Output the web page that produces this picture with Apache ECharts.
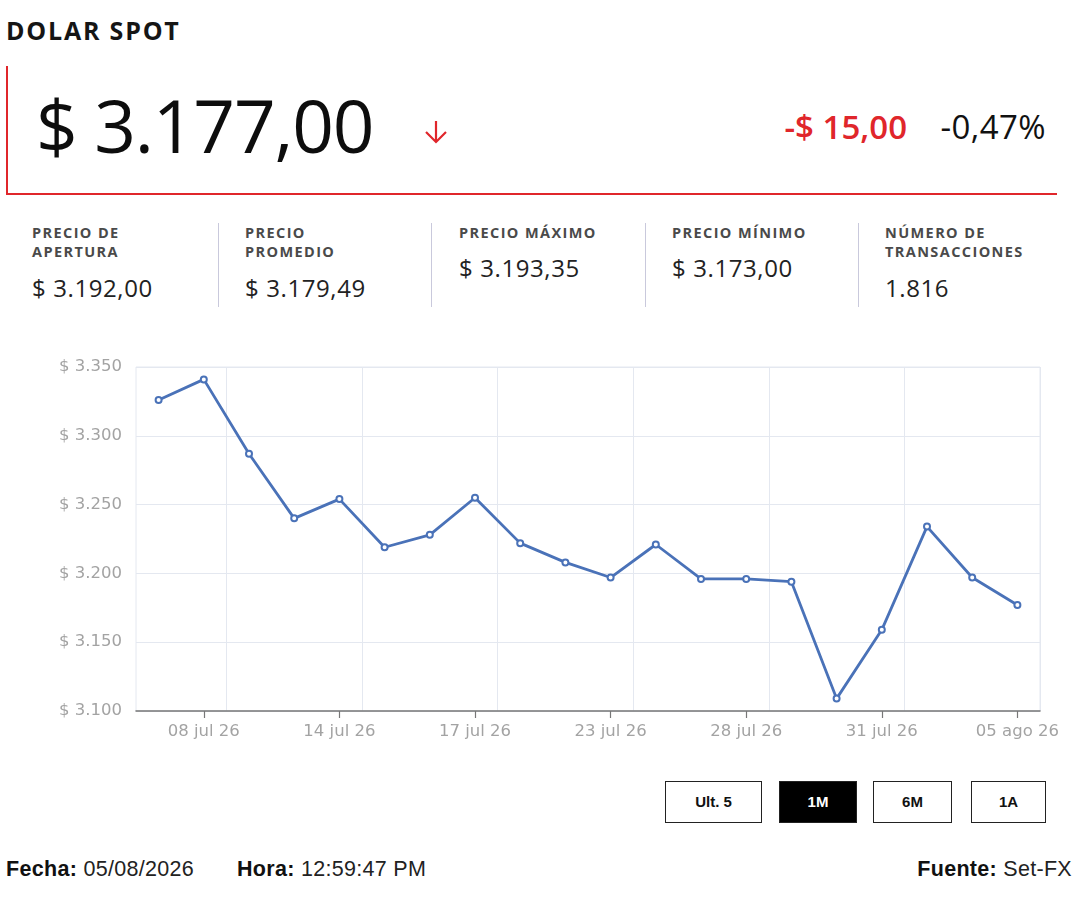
<!DOCTYPE html>
<html>
<head>
<meta charset="utf-8">
<script src="https://cdn.jsdelivr.net/npm/echarts@6/dist/echarts.min.js"></script>
<style>
  body { margin: 0; width: 1080px; height: 900px; background: #fff; font-family: "Open Sans", "Noto Sans", sans-serif; color: #111; position: relative; overflow: hidden; }
  .title { position: absolute; left: 6px; top: 13px; font-size: 25px; font-weight: 700; letter-spacing: 1.8px; color: #151515; }
  .box { position: absolute; left: 6px; top: 66px; width: 1049px; height: 127px; border-left: 2px solid #e0262b; border-bottom: 2px solid #e0262b; }
  .price { position: absolute; left: 28px; top: 9px; font-size: 73px; font-weight: 500; letter-spacing: -1.2px; color: #0d0d0d; }
  .arrow { position: absolute; left: 416px; top: 54px; }
  .chg { position: absolute; right: 150px; top: 38px; font-size: 33px; font-weight: 600; color: #e0262b; }
  .pct { position: absolute; right: 11px; top: 38px; font-size: 33px; font-weight: 500; color: #111; letter-spacing: 0.4px; }
  .stat { position: absolute; top: 223px; height: 84px; }
  .stat.sep { border-left: 1.5px solid #c9c9dc; }
  .stat .lbl { position: absolute; left: 0; top: 0; font-size: 14.5px; font-weight: 700; color: #4a4a4a; line-height: 19px; white-space: nowrap; letter-spacing: 1.4px; }
  .stat .val { position: absolute; left: 0; font-size: 24px; color: #222; white-space: nowrap; letter-spacing: 0.6px; }
  #chart { position: absolute; left: 0; top: 340px; width: 1080px; height: 420px; }
  .btn { position: absolute; top: 781px; height: 42px; border: 1.5px solid #222; box-sizing: border-box; font-family: "Liberation Sans Narrow", "Liberation Sans", sans-serif; font-weight: 700; font-size: 15px; text-align: center; line-height: 40px; }
  .btn.on { background: #000; color: #fff; }
  .foot { position: absolute; top: 857px; font-family: "Liberation Sans", sans-serif; font-size: 21.5px; color: #222; letter-spacing: 0.3px; }
  .foot b { color: #111; }
</style>
</head>
<body>
<div class="title">DOLAR SPOT</div>
<div class="box">
  <div class="price">$ 3.177,00</div>
  <svg class="arrow" width="24" height="24" viewBox="0 0 24 24">
    <path d="M12 1 L12 22 M2 12 L12 22 L22 12" fill="none" stroke="#e0262b" stroke-width="2.2"/>
  </svg>
  <div class="chg">-$ 15,00</div>
  <div class="pct">-0,47%</div>
</div>

<div class="stat" style="left:32px;"><div class="lbl">PRECIO DE<br>APERTURA</div><div class="val" style="top:48px;">$ 3.192,00</div></div>
<div class="stat sep" style="left:218px; width:200px;"><div style="position:absolute; left:26px;"><div class="lbl">PRECIO<br>PROMEDIO</div><div class="val" style="top:48px;">$ 3.179,49</div></div></div>
<div class="stat sep" style="left:431px; width:200px;"><div style="position:absolute; left:27px;"><div class="lbl">PRECIO MÁXIMO</div><div class="val" style="top:28px;">$ 3.193,35</div></div></div>
<div class="stat sep" style="left:645px; width:200px;"><div style="position:absolute; left:26px;"><div class="lbl">PRECIO MÍNIMO</div><div class="val" style="top:28px;">$ 3.173,00</div></div></div>
<div class="stat sep" style="left:858px; width:200px;"><div style="position:absolute; left:26px;"><div class="lbl">NÚMERO DE<br>TRANSACCIONES</div><div class="val" style="top:48px;">1.816</div></div></div>

<div id="chart"></div>

<div class="btn" style="left:665px; width:97px;">Ult. 5</div>
<div class="btn on" style="left:779px; width:78px;">1M</div>
<div class="btn" style="left:873px; width:79px;">6M</div>
<div class="btn" style="left:971px; width:75px;">1A</div>

<div class="foot" style="left:6px;"><b>Fecha:</b> 05/08/2026</div>
<div class="foot" style="left:237px;"><b>Hora:</b> 12:59:47 PM</div>
<div class="foot" style="right:8px;"><b>Fuente:</b> Set-FX</div>

<script>
  // datos del mes (cierre diario)
  var fechas = ['07 jul 26', '08 jul 26', '09 jul 26', '10 jul 26', '14 jul 26', '15 jul 26', '16 jul 26',
    '17 jul 26', '21 jul 26', '22 jul 26', '23 jul 26', '24 jul 26', '27 jul 26', '28 jul 26',
    '29 jul 26', '30 jul 26', '31 jul 26', '03 ago 26', '04 ago 26', '05 ago 26'];
  var precios = [3326, 3341, 3287, 3240, 3254, 3219, 3228, 3255, 3222, 3208,
    3197, 3221, 3196, 3196, 3194, 3109, 3159, 3234, 3197, 3177];
  var yMin = 3100, yMax = 3350, yPaso = 50;

  function moneda(v) {
    return '$ ' + String(v).replace(/\B(?=(\d{3})+(?!\d))/g, '.');
  }
  function cadaTres(i) { return i % 3 === 1; }

  var myChart = echarts.init(document.getElementById('chart'));
  var option = {
    animation: false,
    textStyle: { fontFamily: '"DejaVu Sans", sans-serif' },
    grid: {
      left: 136, right: 40, top: 27, bottom: 49,
      show: true, borderColor: '#e4e8f0', borderWidth: 1
    },
    xAxis: {
      type: 'category',
      data: fechas,
      boundaryGap: true,
      axisLine: { show: true, lineStyle: { color: '#777', width: 1.5 } },
      axisTick: {
        show: true, alignWithLabel: true, length: 7,
        interval: cadaTres,
        lineStyle: { color: '#777', width: 1.2 }
      },
      axisLabel: {
        interval: cadaTres,
        color: '#a3a3a3', fontSize: 16.5, margin: 12
      },
      splitLine: {
        show: true,
        interval: function (i) { return i % 3 === 2; },
        lineStyle: { color: '#e4e8f0' }
      }
    },
    yAxis: {
      type: 'value',
      min: yMin, max: yMax, interval: yPaso,
      axisLine: { show: false },
      axisTick: { show: false },
      axisLabel: { formatter: moneda, color: '#a3a3a3', fontSize: 16.5, margin: 14 },
      splitLine: { lineStyle: { color: '#e4e8f0' } }
    },
    series: [{
      type: 'line',
      data: precios,
      symbol: 'emptyCircle',
      symbolSize: 6,
      lineStyle: { color: '#4a72b8', width: 2.8 },
      itemStyle: { color: '#4a72b8', borderWidth: 2 }
    }]
  };
  myChart.setOption(option);
</script>
</body>
</html>
